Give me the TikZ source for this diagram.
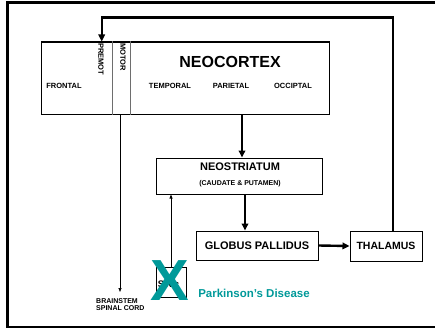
\documentclass[tikz,border=0pt]{standalone}
\usepackage{fontspec}
\setmainfont{Liberation Sans}
\usepackage{xcolor}
\usepackage{tikz}
\usetikzlibrary{arrows.meta}
\definecolor{bteal}{RGB}{0,153,153}
\definecolor{bgray}{RGB}{110,110,110}
\newcommand{\fs}[1]{\fontsize{#1}{#1}\selectfont\bfseries}
\tikzset{
  region/.style={rectangle, draw=black, line width=1pt, fill=white, inner sep=0pt},
  lab/.style   ={inner sep=0pt, font=\fs{7.5}},
  big/.style   ={inner sep=0pt, font=\fs{11}},
  frame/.style ={line width=2.2pt},
  div/.style   ={draw=bgray, line width=0.8pt},
  ar/.style    ={-{Triangle[length=7pt,width=6.5pt]}, line width=2.4pt},
  arthin/.style={-{Triangle[length=4pt,width=3pt]}, line width=0.7pt}
}
\begin{document}
\begin{tikzpicture}[x=1pt,y=-1pt]
\useasboundingbox (0,0) rectangle (435,329);
\draw[frame] (445,2.5) -- (7.5,2.5) -- (7.5,327) -- (445,327);

% neocortex with its lobes
\node[region, minimum width=288pt, minimum height=72pt] (neo) at (185,78) {};
\draw[div] ([xshift=72pt]neo.north west) -- ([xshift=72pt]neo.south west);
\draw[div] ([xshift=90pt]neo.north west) -- ([xshift=90pt]neo.south west);
\node[inner sep=0pt, font=\fs{16}] (neot) at (230,62) {NEOCORTEX};
\node[lab] (front) at (64,86) {FRONTAL};
\node[lab, rotate=-90, anchor=west] (premot) at (101,43) {PREMOT};
\node[lab, rotate=-90, anchor=west] (motor) at (123,43) {MOTOR};
\node[lab] (temp) at (170,86) {TEMPORAL};
\node[lab] (pari) at (231,86) {PARIETAL};
\node[lab] (occi) at (293,86) {OCCIPTAL};

% basal ganglia loop
\node[region, minimum width=166pt, minimum height=36pt] (str) at (239,176) {};
\node[big] (strt) at (240,167) {NEOSTRIATUM};
\node[lab, font=\fs{7}] (cp) at (240,184) {(CAUDATE \& PUTAMEN)};
\node[region, minimum width=122pt, minimum height=29pt, font=\fs{11}] (gp) at (257,245.5) {GLOBUS PALLIDUS};
\node[region, minimum width=72pt, minimum height=30pt, font=\fs{10.5}] (thal) at (386,246) {THALAMUS};
\node[region, minimum width=30pt, minimum height=30pt] (snc) at (171,282) {};
\node[lab, font=\fs{9.5}] (snct) at (168.5,284) {S\hspace{1.5pt}N\hspace{1.5pt}c};
\node[inner sep=0pt, font=\fs{58}, text=bteal] (x) at (169.5,281) {X};
\node[inner sep=0pt, font=\fs{11.5}, text=bteal] (pd) at (254,293) {Parkinson’s Disease};
\node[lab, font=\fs{7}, align=left, anchor=north west] (bs) at (96,298) {BRAINSTEM\\SPINAL CORD};

\coordinate (top) at (101.7,17.7);
\coordinate (bstip) at (120,292);
\draw[ar] (neo.south -| 242,0) -- (str.north -| 242,0);
\draw[ar] (str.south -| 245,0) -- (gp.north -| 245,0);
\draw[ar] (gp.east) -- (thal.west);
\draw[ar] ([xshift=7pt]thal.north) |- (top) -- (top |- neo.north);
\draw[arthin] (neo.south -| bstip) -- (bstip);
\draw[arthin] (snc.north) -- (snc.north |- str.south);
\end{tikzpicture}
\end{document}
